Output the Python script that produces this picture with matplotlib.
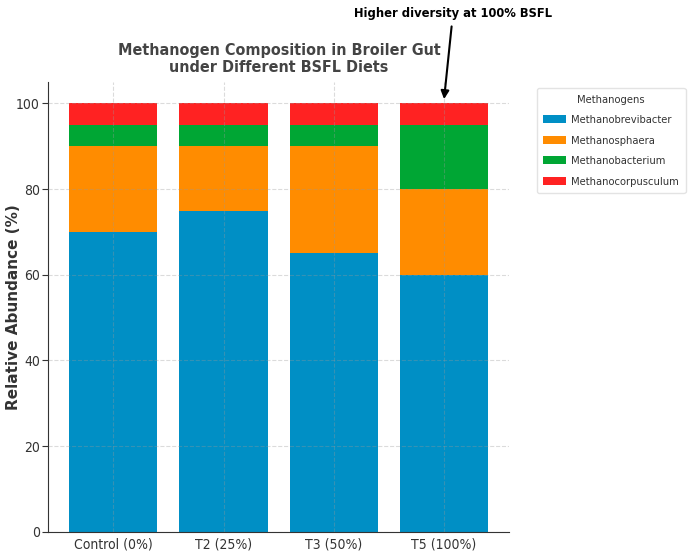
import matplotlib
matplotlib.use("Agg")
import matplotlib.pyplot as plt
import numpy as np

groups = ["Control (0%)", "T2 (25%)", "T3 (50%)", "T5 (100%)"]
series_names = ["Methanobrevibacter", "Methanosphaera", "Methanobacterium", "Methanocorpusculum"]
methanobrevibacter = [70, 75, 65, 60]
methanosphaera = [20, 15, 25, 20]
methanobacterium = [5, 5, 5, 15]
methanocorpusculum = [5, 5, 5, 5]
colors = ["#008fc5", "#ff8c00", "#00a634", "#ff2222"]

COND = dict(family="DejaVu Sans", stretch="condensed")

fig = plt.figure(figsize=(6.88, 5.54), dpi=100)
ax = fig.add_axes([0.070, 0.040, 0.670, 0.812])

x = np.arange(len(groups))
bottom = np.zeros(len(groups))
for name, vals, c in zip(series_names,
                         [methanobrevibacter, methanosphaera, methanobacterium, methanocorpusculum],
                         colors):
    ax.bar(x, vals, 0.8, bottom=bottom, color=c, label=name, zorder=1)
    bottom += np.array(vals)

ax.set_ylim(0, 105)
ax.set_xticks(x)
ax.set_xticklabels(groups, fontsize=10, color="#333333", fontstretch="condensed")
ax.set_yticks([0, 20, 40, 60, 80, 100])
ax.set_yticklabels(["0", "20", "40", "60", "80", "100"], fontsize=10, color="#333333",
                   fontstretch="condensed")
ax.tick_params(axis="x", length=0, pad=4)
ax.tick_params(axis="y", length=4, color="#333333", pad=2)
ax.grid(True, linestyle="--", color="#999999", alpha=0.35, linewidth=0.8, zorder=3)
ax.set_axisbelow(False)
for s in ["top", "right"]:
    ax.spines[s].set_visible(False)
for s in ["left", "bottom"]:
    ax.spines[s].set_color("#333333")

ax.set_ylabel("Relative Abundance (%)", fontsize=11, fontweight="bold", color="#333333")
ax.yaxis.label.set_va("center")
ax.yaxis.set_label_coords((13 - 48) / 461, 0.5)

fig.text(279 / 688, 1 - 59 / 554, "Methanogen Composition in Broiler Gut\nunder Different BSFL Diets",
         ha="center", va="center", fontsize=11.5, fontweight="bold", color="#444444",
         linespacing=1.25, **COND)

ax.annotate("Higher diversity at 100% BSFL", xy=(3, 101), xycoords="data",
            xytext=(453 / 688, 1 - 13 / 554), textcoords="figure fraction",
            ha="center", va="center", fontsize=9.3, fontweight="bold", color="black",
            arrowprops=dict(arrowstyle="-|>", color="black", lw=1.5, mutation_scale=12,
                            shrinkA=3, shrinkB=0),
            **COND)

leg = ax.legend(title="Methanogens", loc="upper left", bbox_to_anchor=(1.06, 0.987),
                borderaxespad=0, borderpad=0.6, labelspacing=0.95, handletextpad=0.5,
                frameon=True, edgecolor="#dddddd", fancybox=True,
                prop=dict(family="DejaVu Sans", stretch="condensed", size=8))
leg.get_title().set_fontstretch("condensed")
leg.get_title().set_fontsize(8)
leg.get_title().set_color("#333333")
for t in leg.get_texts():
    t.set_color("#333333")

fig.savefig("out.png", dpi=100)
